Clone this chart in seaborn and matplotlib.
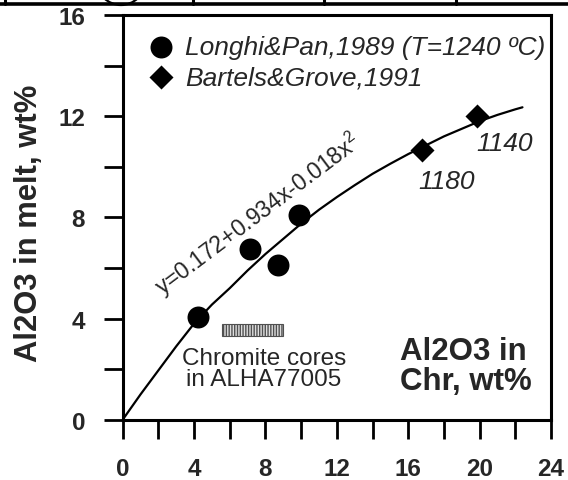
import matplotlib
matplotlib.use('Agg')
import matplotlib.pyplot as plt
import seaborn as sns
import pandas as pd
from matplotlib.lines import Line2D
from matplotlib.patches import Circle
from matplotlib.transforms import IdentityTransform
from matplotlib.ticker import MultipleLocator

# ---------------- data ----------------
longhi_x = [4.22, 7.13, 8.72, 9.89]
longhi_y = [4.07, 6.76, 6.10, 8.08]
bartels_x = [16.79, 19.85]
bartels_y = [10.67, 11.99]
bartels_T = ['1180', '1140']

# fitted curve y=0.172+0.934x-0.018x^2
fit_x = [0, 1, 2, 3, 4, 5, 6, 7, 8, 9, 10, 11, 12, 13, 14, 15, 16, 17, 18, 19, 20, 21, 22, 22.4]
fit_y = [0.0, 1.0, 1.95, 2.9, 3.8, 4.55, 5.2, 5.9, 6.55, 7.15, 7.75, 8.3, 8.8, 9.27,
         9.72, 10.12, 10.5, 10.85, 11.2, 11.5, 11.8, 12.05, 12.27, 12.35]

chromite_range_x = [5.55, 9.0]
chromite_range_y = [3.30, 3.79]

x_major = [0, 4, 8, 12, 16, 20, 24]
y_major = [0, 4, 8, 12, 16]

legend_labels = ['Longhi&Pan,1989 (T=1240 ºC)', 'Bartels&Grove,1991']
equation = 'y=0.172+0.934x-0.018x$^2$'
chromite_label = 'Chromite cores\nin ALHA77005'
xlabel_text = 'Al2O3 in\nChr, wt%'
ylabel_text = 'Al2O3 in melt, wt%'

# ---------------- style ----------------
sns.set_style('ticks')
plt.rcParams['font.family'] = ['Liberation Sans', 'DejaVu Sans']
plt.rcParams['mathtext.default'] = 'regular'

fig = plt.figure(figsize=(5.68, 4.81), dpi=100)
ax = fig.add_axes([0.2160, 0.1254, 0.7541, 0.8414])

df_l = pd.DataFrame({'x': longhi_x, 'y': longhi_y})
df_b = pd.DataFrame({'x': bartels_x, 'y': bartels_y})
df_f = pd.DataFrame({'x': fit_x, 'y': fit_y})

sns.lineplot(data=df_f, x='x', y='y', ax=ax, color='black', linewidth=1.6, sort=False, zorder=2)
sns.scatterplot(data=df_l, x='x', y='y', ax=ax, marker='o', s=250, color='black',
                linewidth=0, label=legend_labels[0], zorder=3)
sns.scatterplot(data=df_b, x='x', y='y', ax=ax, marker='D', s=150, color='black',
                linewidth=0, label=legend_labels[1], zorder=3)

# chromite cores range bar
ax.barh(y=(chromite_range_y[0] + chromite_range_y[1]) / 2,
        width=chromite_range_x[1] - chromite_range_x[0],
        left=chromite_range_x[0],
        height=chromite_range_y[1] - chromite_range_y[0],
        facecolor='#dedede', edgecolor='#505050', hatch='||||||', linewidth=0.8, zorder=2)

ax.set_xlim(0, 24)
ax.set_ylim(0, 16)
ax.set_xticks(x_major)
ax.set_yticks(y_major)
ax.xaxis.set_minor_locator(MultipleLocator(2))
ax.yaxis.set_minor_locator(MultipleLocator(2))
ax.tick_params(axis='both', which='both', direction='out', length=14, width=2,
               color='black', labelsize=17.5, pad=13)
for lab in ax.get_xticklabels() + ax.get_yticklabels():
    lab.set_fontweight('bold')

for sp in ax.spines.values():
    sp.set_visible(True)
    sp.set_linewidth(2.2)
    sp.set_color('black')

ax.set_xlabel('')
ax.set_ylabel(ylabel_text, fontsize=22.3, fontweight='bold')
ax.yaxis.set_label_coords(-0.184, 0.4885)

# legend
leg = ax.legend(loc='upper left', bbox_to_anchor=(0.059, 0.951), borderaxespad=0,
                borderpad=0, frameon=False, handlelength=1.0, handletextpad=0.4,
                labelspacing=0.25, prop={'style': 'italic', 'size': 19})

# annotations
for xv, yv, t, dx, dy in zip(bartels_x, bartels_y, bartels_T, [1.38, 1.57], [-1.22, -1.06]):
    ax.text(xv + dx, yv + dy, t, fontsize=19, style='italic', ha='center', va='center')

ax.text(7.58, 8.14, equation, fontsize=16.5, rotation=37, rotation_mode='anchor',
        ha='center', va='center')
ax.text(7.92, 2.03, chromite_label, fontsize=17.5, ha='center', va='center',
        linespacing=0.95)
ax.text(15.54, 2.13, xlabel_text, fontsize=22.5, fontweight='bold', ha='left', va='center',
        linespacing=1.0)

# fragment of the table above the chart (cropped edge)
tr = IdentityTransform()
H = 481
fig.add_artist(Line2D([0, 568], [H - 5.4, H - 5.4], color='black', linewidth=2.6, transform=tr))
for xv in [5, 193, 324, 456]:
    fig.add_artist(Line2D([xv, xv], [H + 2, H - 5.4], color='black', linewidth=2.2, transform=tr))
fig.add_artist(Circle((121, H + 18.2), 24.2, fill=False, edgecolor='black', linewidth=1.6,
                      transform=tr))

fig.savefig('out.png', dpi=100)
